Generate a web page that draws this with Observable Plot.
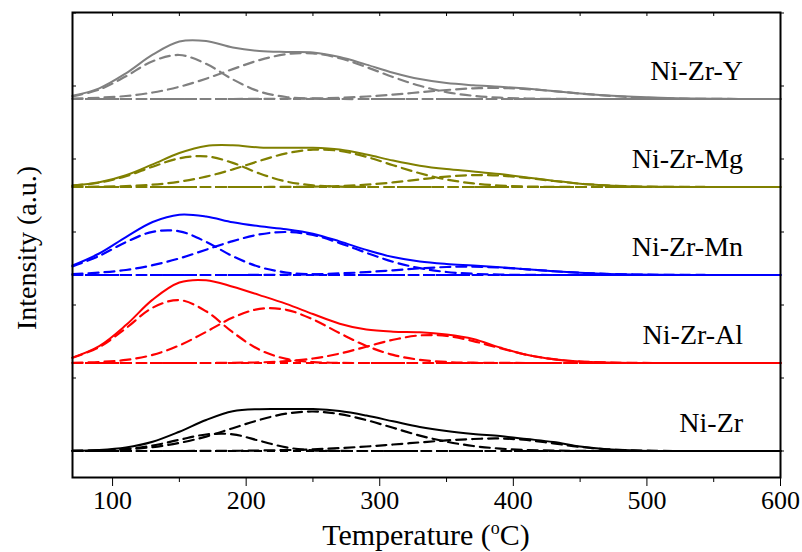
<!DOCTYPE html>
<html>
<head>
<meta charset="utf-8">
<script src="https://cdn.jsdelivr.net/npm/d3@7"></script>
<script src="https://cdn.jsdelivr.net/npm/@observablehq/plot@0.6"></script>
<style>
  body { margin: 0; background: #fff; }
  #chart svg { display: block; }
  #chart svg text { font-family: "Liberation Serif", "Times New Roman", "DejaVu Serif", serif; }
</style>
</head>
<body>
<div id="chart"></div>
<script>
// ---------- data ----------
const temperature = [70, 90, 110, 130, 150, 170, 190, 210, 230, 250, 270, 290, 310, 330, 350, 370, 390, 410, 430, 450, 470, 490, 510, 530, 550, 570, 600];

const sampleNames = ["Ni-Zr", "Ni-Zr-Al", "Ni-Zr-Mn", "Ni-Zr-Mg", "Ni-Zr-Y"];
const sampleOffsets = [0, 88, 176, 264, 352];

const xTickValues = [100, 200, 300, 400, 500, 600];
const xMinorTickValues = [150, 250, 350, 450, 550];
const xTopTickValues = [100, 150, 200, 250, 300, 350, 400, 450, 500, 550, 600];
const yTickValues = [0, 73, 146, 219, 292, 365, 438];

// Ni-Zr
const niZrTotal = [0.3, 1.1, 3.6, 9.3, 19.3, 31.0, 39.7, 41.8, 41.9, 41.9, 39.9, 35.4, 29.7, 24.0, 19.9, 17.0, 14.9, 12.0, 9.0, 4.5, 1.7, 0.6, 0.1, 0, 0, 0, 0];
const niZrPeak1 = [0.1, 0.5, 1.9, 5.4, 11.2, 16.5, 16.7, 10.2, 3.6, 0.7, 0.1, 0, 0, 0, 0, 0, 0, 0, 0, 0, 0, 0, 0, 0, 0, 0, 0];
const niZrPeak2 = [0.2, 0.6, 1.7, 3.9, 8.1, 14.4, 22.8, 31.1, 37.4, 39.5, 36.9, 30.9, 23.2, 15.4, 9.3, 5.0, 2.4, 1.0, 0.4, 0.1, 0, 0, 0, 0, 0, 0, 0];
const niZrPeak3 = [0, 0, 0, 0, 0, 0.1, 0.2, 0.5, 0.9, 1.7, 2.9, 4.5, 6.5, 8.6, 10.6, 12.0, 12.5, 11.0, 7.6, 4.1, 1.7, 0.6, 0.1, 0, 0, 0, 0];

// Ni-Zr-Al
const alTotal = [5.4, 16.9, 37.9, 63.4, 80.5, 82.8, 76.3, 67.9, 59.1, 49.0, 39.3, 33.4, 31.3, 30.8, 28.5, 24.0, 15.5, 8.2, 3.8, 1.5, 0.5, 0.1, 0, 0, 0, 0, 0];
const alPeak1 = [5.2, 15.9, 34.8, 55.3, 62.9, 51.7, 30.7, 13.2, 4.1, 0.9, 0.1, 0, 0, 0, 0, 0, 0, 0, 0, 0, 0, 0, 0, 0, 0, 0, 0];
const alPeak2 = [0.2, 1.0, 3.1, 8.1, 17.6, 31.1, 45.4, 54.1, 53.2, 43.6, 29.8, 17.1, 8.1, 3.2, 1.0, 0.3, 0.1, 0, 0, 0, 0, 0, 0, 0, 0, 0, 0];
const alPeak3 = [0, 0, 0, 0, 0, 0, 0.2, 0.6, 1.8, 4.5, 9.4, 16.3, 23.2, 27.6, 27.1, 21.9, 14.8, 8.2, 3.8, 1.5, 0.5, 0.1, 0, 0, 0, 0, 0];

// Ni-Zr-Mn
const mnTotal = [9.5, 21.5, 37.9, 53.0, 60.3, 58.5, 52.7, 48.7, 45.8, 41.3, 33.6, 25.1, 17.9, 13.4, 11.0, 9.5, 7.8, 5.8, 3.8, 2.2, 1.1, 0.5, 0.2, 0.1, 0, 0, 0];
const mnPeak1 = [8.6, 19.1, 32.9, 43.2, 43.7, 33.2, 18.8, 8.0, 2.5, 0.6, 0.1, 0, 0, 0, 0, 0, 0, 0, 0, 0, 0, 0, 0, 0, 0, 0, 0];
const mnPeak2 = [0.9, 2.4, 5.0, 9.8, 16.6, 25.3, 33.9, 40.6, 43.0, 40.0, 31.9, 22.2, 13.2, 6.8, 3.0, 1.2, 0.4, 0.1, 0, 0, 0, 0, 0, 0, 0, 0, 0];
const mnPeak3 = [0, 0, 0, 0, 0, 0, 0, 0.1, 0.3, 0.7, 1.6, 2.9, 4.7, 6.6, 8.0, 8.3, 7.4, 5.7, 3.8, 2.2, 1.1, 0.5, 0.2, 0.1, 0, 0, 0];

// Ni-Zr-Mg
const mgTotal = [1.5, 4.7, 11.7, 22.6, 34.0, 41.1, 41.7, 39.6, 39.2, 39.2, 37.4, 32.5, 26.4, 21.3, 17.9, 15.5, 12.9, 9.6, 6.2, 3.3, 1.6, 0.6, 0.2, 0.1, 0, 0, 0];
const mgPeak1 = [1.4, 4.4, 10.8, 20.3, 28.7, 30.7, 24.1, 13.5, 5.5, 1.6, 0.3, 0, 0, 0, 0, 0, 0, 0, 0, 0, 0, 0, 0, 0, 0, 0, 0];
const mgPeak2 = [0.1, 0.3, 0.9, 2.3, 5.3, 10.4, 17.6, 26.1, 33.6, 37.3, 36.1, 30.2, 21.8, 13.7, 7.5, 3.6, 1.5, 0.5, 0.2, 0, 0, 0, 0, 0, 0, 0, 0];
const mgPeak3 = [0, 0, 0, 0, 0, 0, 0, 0, 0.1, 0.3, 1.0, 2.3, 4.6, 7.6, 10.4, 11.9, 11.4, 9.1, 6.0, 3.3, 1.6, 0.6, 0.2, 0.1, 0, 0, 0];

// Ni-Zr-Y
const yTotal = [3.2, 10.7, 25.7, 44.3, 57.5, 58.0, 51.5, 48.0, 47.0, 46.5, 42.0, 34.4, 26.3, 19.9, 15.9, 13.8, 12.3, 10.4, 8.0, 5.5, 3.6, 2.2, 1.2, 0.6, 0.3, 0.1, 0];
const yPeak1 = [2.7, 9.4, 22.7, 37.8, 44.0, 35.2, 19.6, 7.5, 2.0, 0.4, 0, 0, 0, 0, 0, 0, 0, 0, 0, 0, 0, 0, 0, 0, 0, 0, 0];
const yPeak2 = [0.5, 1.3, 3.0, 6.5, 12.2, 20.3, 29.9, 38.9, 44.8, 45.6, 40.8, 31.9, 21.9, 13.2, 6.9, 3.2, 1.3, 0.5, 0.1, 0, 0, 0, 0, 0, 0, 0, 0];
const yPeak3 = [0, 0, 0, 0, 0, 0, 0, 0.1, 0.2, 0.55, 1.2, 2.5, 4.4, 6.7, 9.0, 10.6, 11.0, 9.9, 7.9, 5.5, 3.3, 1.8, 0.8, 0.3, 0.1, 0, 0];

// ---------- styles ----------
const sampleColors = ["#000000", "#ff0000", "#0000ff", "#808000", "#808080"];
const serif = "Liberation Serif, Times New Roman, DejaVu Serif, serif";

// ---------- build tables ----------
const series = [
  {total: niZrTotal, peaks: [niZrPeak1, niZrPeak2, niZrPeak3]},
  {total: alTotal, peaks: [alPeak1, alPeak2, alPeak3]},
  {total: mnTotal, peaks: [mnPeak1, mnPeak2, mnPeak3]},
  {total: mgTotal, peaks: [mgPeak1, mgPeak2, mgPeak3]},
  {total: yTotal, peaks: [yPeak1, yPeak2, yPeak3]}
];

const solidRows = [];
const dashedRows = [];
series.forEach((s, i) => {
  const name = sampleNames[i], off = sampleOffsets[i];
  temperature.forEach((t, j) => solidRows.push({sample: name, T: t, I: off + s.total[j]}));
  s.peaks.forEach((p, k) => {
    temperature.forEach((t, j) => dashedRows.push({sample: name, key: name + "-" + k, T: t, I: off + p[j]}));
  });
});
const baseRows = sampleNames.map((name, i) => ({sample: name, I: sampleOffsets[i]}));

const svg = Plot.plot({
  width: 802,
  height: 552,
  marginLeft: 72,
  marginRight: 22,
  marginTop: 12,
  marginBottom: 75,
  style: {fontFamily: serif, fontSize: "26px", background: "white", color: "black"},
  x: {domain: [70, 600]},
  y: {domain: [-26.5, 438.5]},
  color: {domain: sampleNames, range: sampleColors},
  marks: [
    Plot.ruleY(baseRows, {y: "I", stroke: "sample", strokeWidth: 2, strokeDasharray: "8,5"}),
    Plot.line(dashedRows, {x: "T", y: "I", z: "key", stroke: "sample", strokeWidth: 2.2, strokeDasharray: "10,6", curve: "catmull-rom"}),
    Plot.line(solidRows, {x: "T", y: "I", z: "sample", stroke: "sample", strokeWidth: 2, curve: "catmull-rom"}),
    Plot.text(baseRows, {x: 572, y: d => d.I + 28, text: "sample", textAnchor: "end", fontSize: 28, fill: "black"}),
    Plot.frame({stroke: "black", strokeWidth: 2}),
    Plot.axisX({ticks: xTickValues, tickSize: 9, tickPadding: 4, fontSize: 26, label: null}),
    Plot.axisX({ticks: xMinorTickValues, tickSize: 5, tickFormat: () => "", label: null}),
    Plot.axisX({anchor: "top", ticks: xTopTickValues, tickSize: -3, tickFormat: () => "", label: null}),
    Plot.axisY({anchor: "left", ticks: yTickValues, tickSize: -4, tickFormat: () => "", label: null}),
    Plot.axisY({anchor: "right", ticks: yTickValues, tickSize: 3, tickFormat: () => "", label: null})
  ]
});

document.getElementById("chart").appendChild(svg);

// axis titles
const root = d3.select(svg);
const xt = root.append("text")
  .attr("x", 426).attr("y", 545)
  .attr("text-anchor", "middle")
  .attr("font-size", 30)
  .attr("fill", "black");
xt.append("tspan").text("Temperature (");
xt.append("tspan").attr("font-size", 18).attr("dy", -11).text("o");
xt.append("tspan").attr("dy", 11).text("C)");

root.append("text")
  .attr("transform", "translate(36,248) rotate(-90)")
  .attr("text-anchor", "middle")
  .attr("font-size", 28)
  .attr("fill", "black")
  .text("Intensity (a.u.)");
</script>
</body>
</html>
